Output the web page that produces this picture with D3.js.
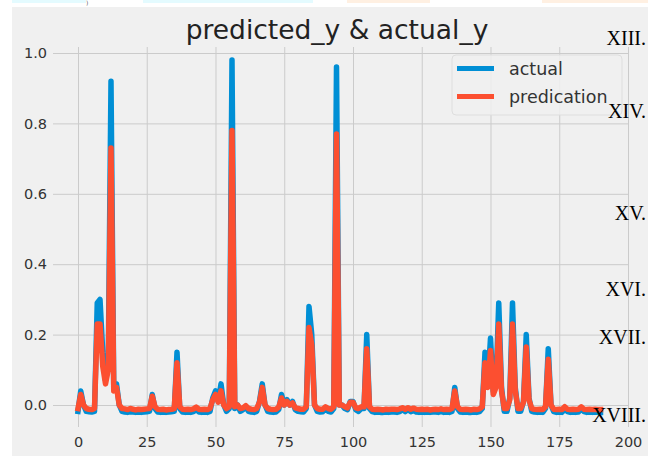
<!DOCTYPE html>
<html>
<head>
<meta charset="utf-8">
<script src="https://cdn.jsdelivr.net/npm/d3@7"></script>
<style>
  html, body { margin: 0; padding: 0; background: #ffffff; }
  svg { display: block; }
</style>
</head>
<body>
<svg id="chart" width="648" height="456"></svg>
<script>
// ---------- data ----------
const title = "predicted_y & actual_y";
const seriesNames = ["actual", "predication"];
const xTicks = [0, 25, 50, 75, 100, 125, 150, 175, 200];
const yTicks = [0.0, 0.2, 0.4, 0.6, 0.8, 1.0];
const sideLabels = ["XIII.", "XIV.", "XV.", "XVI.", "XVII.", "XVIII."];

const actual = [
  -0.018, 0.040, 0.000, -0.018, -0.019, -0.020, -0.018, 0.290, 0.300, 0.150,
  0.070, 0.120, 0.920, 0.050, 0.060, 0.000, -0.018, -0.020, -0.021, -0.019,
  -0.020, -0.021, -0.020, -0.021, -0.020, -0.019, -0.018, 0.030, -0.010, -0.020,
  -0.021, -0.020, -0.021, -0.020, -0.019, -0.018, 0.150, -0.010, -0.020, -0.021,
  -0.020, -0.021, -0.019, -0.013, -0.020, -0.021, -0.020, -0.021, -0.018, 0.020,
  0.040, 0.010, 0.060, 0.000, -0.018, -0.010, 0.980, -0.010, 0.000, -0.018,
  -0.013, -0.005, -0.018, -0.020, -0.021, -0.018, 0.010, 0.060, 0.000, -0.018,
  -0.020, -0.021, -0.020, -0.013, 0.030, 0.000, 0.015, 0.000, 0.010, -0.013,
  -0.018, -0.019, -0.020, -0.010, 0.280, 0.200, 0.000, -0.018, -0.020, -0.019,
  -0.010, -0.018, -0.020, -0.010, 0.960, 0.000, 0.000, -0.010, -0.013, 0.010,
  0.010, -0.013, -0.018, -0.010, -0.010, 0.200, -0.010, -0.019, -0.021, -0.020,
  -0.021, -0.021, -0.020, -0.021, -0.020, -0.020, -0.021, -0.019, -0.013, -0.019,
  -0.013, -0.019, -0.016, -0.020, -0.021, -0.020, -0.021, -0.020, -0.021, -0.020,
  -0.020, -0.021, -0.019, -0.021, -0.020, -0.021, -0.018, 0.050, -0.010, -0.020,
  -0.021, -0.020, -0.021, -0.021, -0.020, -0.021, -0.019, -0.010, 0.150, 0.060,
  0.190, 0.040, 0.060, 0.290, 0.050, -0.018, -0.018, 0.020, 0.290, 0.050,
  -0.018, -0.018, 0.010, 0.200, 0.020, -0.018, -0.020, -0.021, -0.020, -0.021,
  -0.010, 0.160, 0.000, -0.019, -0.021, -0.020, -0.021, -0.011, -0.019, -0.021,
  -0.020, -0.021, -0.020, -0.011, -0.019, -0.021, -0.020, -0.021, -0.020, -0.021,
  -0.021
];

const predication = [
  -0.010, 0.030, 0.000, -0.010, -0.012, -0.013, -0.010, 0.230, 0.230, 0.110,
  0.060, 0.100, 0.730, 0.040, 0.050, 0.000, -0.010, -0.011, -0.013, -0.010,
  -0.012, -0.014, -0.012, -0.013, -0.012, -0.011, -0.010, 0.025, -0.005, -0.012,
  -0.013, -0.012, -0.014, -0.013, -0.012, -0.010, 0.120, -0.005, -0.012, -0.013,
  -0.012, -0.013, -0.011, -0.006, -0.012, -0.013, -0.012, -0.013, -0.010, 0.015,
  0.030, 0.008, 0.040, 0.000, -0.010, -0.005, 0.780, -0.005, 0.000, -0.010,
  -0.008, -0.002, -0.010, -0.012, -0.013, -0.010, 0.008, 0.050, 0.000, -0.010,
  -0.012, -0.013, -0.012, -0.006, 0.020, 0.000, 0.010, 0.000, 0.006, -0.008,
  -0.010, -0.012, -0.012, -0.005, 0.220, 0.170, 0.000, -0.010, -0.012, -0.012,
  -0.005, -0.010, -0.012, -0.005, 0.770, 0.000, 0.000, -0.005, -0.008, 0.008,
  0.008, -0.008, -0.010, -0.005, -0.005, 0.160, -0.005, -0.012, -0.013, -0.012,
  -0.013, -0.014, -0.012, -0.013, -0.012, -0.012, -0.013, -0.011, -0.008, -0.012,
  -0.008, -0.012, -0.009, -0.012, -0.013, -0.012, -0.013, -0.012, -0.014, -0.013,
  -0.012, -0.013, -0.011, -0.013, -0.012, -0.013, -0.010, 0.040, -0.005, -0.012,
  -0.013, -0.012, -0.013, -0.014, -0.012, -0.013, -0.011, -0.005, 0.120, 0.050,
  0.155, 0.030, 0.050, 0.230, 0.040, -0.010, -0.010, 0.015, 0.230, 0.040,
  -0.010, -0.010, 0.008, 0.165, 0.015, -0.010, -0.012, -0.013, -0.012, -0.013,
  -0.005, 0.130, 0.000, -0.012, -0.013, -0.012, -0.013, -0.005, -0.012, -0.013,
  -0.012, -0.013, -0.012, -0.005, -0.012, -0.013, -0.012, -0.013, -0.012, -0.013,
  -0.013
];

// ---------- layout ----------
const svg = d3.select("#chart");
const W = 648, H = 456;
const plot = { left: 53, right: 628, top: 47, bottom: 427 };
const colors = { actual: "#008fd5", pred: "#fc4f30", bg: "#f0f0f0", grid: "#cbcbcb", text: "#333333" };
const sans = "'DejaVu Sans', sans-serif";

const x = d3.scaleLinear().domain([0, 200]).range([78, 628]);
const y = d3.scaleLinear().domain([0, 1]).range([405, 53]);

// page artefacts: white margin strips and faint coloured tabs at the top
svg.append("rect").attr("x", 0).attr("y", 0).attr("width", W).attr("height", H).attr("fill", "#ffffff");
svg.append("rect").attr("x", 12).attr("y", 7).attr("width", W - 12).attr("height", H - 7).attr("fill", colors.bg);
const tabs = [
  { x0: 12, x1: 86, c: "#e4fbff" },
  { x0: 143, x1: 313, c: "#e4fbff" },
  { x0: 347, x1: 430, c: "#fff0e2" },
  { x0: 542, x1: 648, c: "#fff0e2" }
];
svg.selectAll("rect.tab").data(tabs).enter().append("rect")
  .attr("class", "tab")
  .attr("x", d => d.x0).attr("y", 0)
  .attr("width", d => d.x1 - d.x0).attr("height", 3)
  .attr("fill", d => d.c);
svg.append("text").attr("x", 86).attr("y", 5).style("font-family", sans)
  .style("font-size", "6px").attr("fill", "#666").text(")");

// ---------- grid via axes ----------
const gx = svg.append("g")
  .attr("transform", `translate(0,${plot.bottom})`)
  .call(d3.axisBottom(x).tickValues(xTicks).tickFormat(d3.format("d"))
    .tickSizeInner(-(plot.bottom - plot.top)).tickSizeOuter(0).tickPadding(10));
gx.select(".domain").remove();
gx.selectAll(".tick line").attr("stroke", colors.grid).attr("stroke-width", 1);
gx.selectAll(".tick text").style("font-size", "14.5px").attr("fill", colors.text)
  .style("font-family", sans);

const gy = svg.append("g")
  .attr("transform", `translate(${plot.left},0)`)
  .call(d3.axisLeft(y).tickValues(yTicks).tickFormat(d3.format(".1f"))
    .tickSizeInner(-(plot.right - plot.left)).tickSizeOuter(0).tickPadding(6));
gy.select(".domain").remove();
gy.selectAll(".tick line").attr("stroke", colors.grid).attr("stroke-width", 1);
gy.selectAll(".tick text").style("font-size", "14.5px").attr("fill", colors.text)
  .style("font-family", sans);

// ---------- lines ----------
const line = d3.line().x((d, i) => x(i)).y(d => y(d));
svg.append("path").datum(actual)
  .attr("d", line).attr("fill", "none")
  .attr("stroke", colors.actual).attr("stroke-width", 5.5)
  .attr("stroke-linejoin", "round").attr("stroke-linecap", "square");
svg.append("path").datum(predication)
  .attr("d", line).attr("fill", "none")
  .attr("stroke", colors.pred).attr("stroke-width", 5.5)
  .attr("stroke-linejoin", "round").attr("stroke-linecap", "square");

// ---------- title ----------
svg.append("text").attr("x", 337).attr("y", 39)
  .attr("text-anchor", "middle").style("font-family", sans).style("font-size", "26.5px")
  .attr("fill", "#222").text(title);

// ---------- legend ----------
const lg = svg.append("g");
lg.append("rect").attr("x", 452).attr("y", 55).attr("width", 170).attr("height", 60)
  .attr("rx", 4).attr("fill", colors.bg).attr("fill-opacity", 0.85)
  .attr("stroke", "#dedede").attr("stroke-width", 1);
const legendItems = [
  { name: seriesNames[0], c: colors.actual, cy: 68.5 },
  { name: seriesNames[1], c: colors.pred, cy: 96.5 }
];
legendItems.forEach(it => {
  lg.append("line").attr("x1", 457).attr("x2", 494).attr("y1", it.cy).attr("y2", it.cy)
    .attr("stroke", it.c).attr("stroke-width", 5);
  lg.append("text").attr("x", 509).attr("y", it.cy + 6).style("font-family", sans)
    .style("font-size", "17.5px").attr("fill", colors.text).text(it.name);
});

// ---------- side roman numerals ----------
const sideY = [45, 118, 220, 296, 344, 422];
svg.selectAll("text.side").data(sideLabels).enter().append("text")
  .attr("class", "side")
  .attr("x", 646).attr("y", (d, i) => sideY[i])
  .attr("text-anchor", "end")
  .style("font-family", "'Liberation Serif', 'Times New Roman', serif")
  .style("font-size", "20px").attr("fill", "#000")
  .text(d => d);
</script>
</body>
</html>
